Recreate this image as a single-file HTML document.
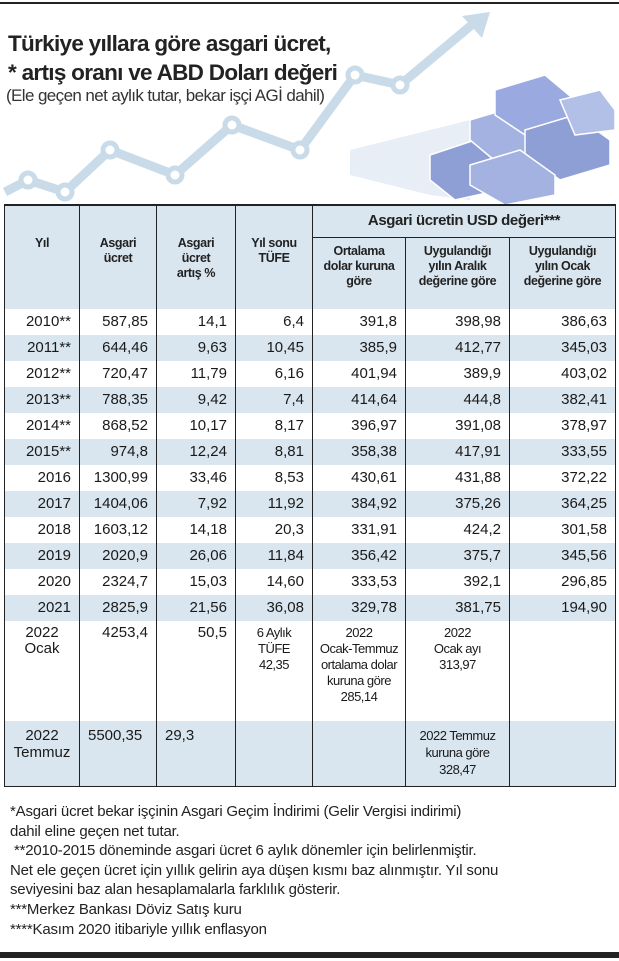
<!DOCTYPE html>
<html><head><meta charset="utf-8"><style>
*{margin:0;padding:0;box-sizing:border-box}
body{width:619px;height:961px;background:#fff;position:relative;overflow:hidden;font-family:"Liberation Sans Narrow","Liberation Sans",sans-serif;color:#1a1a1a}
.abs{position:absolute}
.title{left:8px;top:29px;font-family:"Liberation Sans",sans-serif;font-weight:bold;font-size:22.5px;line-height:29px;letter-spacing:-0.7px;color:#222}
.sub{left:6px;top:86px;font-family:"Liberation Sans",sans-serif;font-size:17px;letter-spacing:-0.6px;color:#333}
table{position:absolute;left:4px;top:204px;width:611px;border-collapse:collapse;font-size:15px;table-layout:fixed}
td{border-left:1.5px solid #222;border-right:1.5px solid #222;padding:0 8px;vertical-align:top;white-space:nowrap;overflow:hidden}
tr.r td{height:26px;line-height:26px;text-align:right}
tr.s td{background:#d9e6ef}
.hd td{background:#d9e6ef;font-weight:bold;font-size:12.5px;line-height:15px;text-align:center;color:#222;letter-spacing:-0.4px;padding:0 2px}
.sm{font-size:13px;letter-spacing:-0.5px}
.foot{left:10px;top:802px;font-size:15px;line-height:19.6px;color:#222;letter-spacing:-0.2px}
</style></head><body>
<div class="abs" style="left:0;top:2px;width:619px;height:2px;background:#222"></div>
<svg class="abs" style="left:0;top:0" width="619" height="205">
<polyline points="5,192 28,180 65,192 110,150 175,175 232,125 300,150 355,75 400,85 480,18" fill="none" stroke="#c9dbe8" stroke-width="9"/>
<polygon points="490,12 462,16 482,38" fill="#c9dbe8"/>
<g fill="#fff" stroke="#c9dbe8" stroke-width="5">
<circle cx="28" cy="180" r="7"/><circle cx="65" cy="192" r="7"/><circle cx="110" cy="150" r="7"/><circle cx="175" cy="175" r="7"/><circle cx="232" cy="125" r="7"/><circle cx="300" cy="150" r="7"/><circle cx="355" cy="75" r="7"/><circle cx="400" cy="85" r="7"/></g>
<polygon points="350,150 470,120 470,200 430,195 350,175" fill="#e8eef6"/>
<g stroke="#fff" stroke-width="1.5">
<polygon points="430,155 475,140 500,165 500,190 455,200 430,180" fill="#8e9fd6"/>
<polygon points="470,120 520,105 550,130 550,150 500,165 470,140" fill="#a3b2e0"/>
<polygon points="495,90 545,75 575,100 575,120 525,135 495,115" fill="#9aaae0"/>
<polygon points="525,130 575,115 610,140 610,165 560,180 525,155" fill="#8e9fd6"/>
<polygon points="470,165 520,150 555,175 555,195 505,205 470,185" fill="#a3b2e0"/>
<polygon points="560,100 600,90 615,110 615,130 575,135" fill="#b2bfe6"/>
</g></svg>
<div class="abs title">Türkiye yıllara göre asgari ücret,<br>* artış oranı ve ABD Doları değeri</div>
<div class="abs sub">(Ele geçen net aylık tutar, bekar işçi AGİ dahil)</div>
<table>
<colgroup><col style="width:75px"><col style="width:77px"><col style="width:79px"><col style="width:77px"><col style="width:93px"><col style="width:104px"><col style="width:106px"></colgroup>
<tr class="hd"><td rowspan="2" style="padding-top:32px;height:104px">Yıl</td><td rowspan="2" style="padding-top:32px">Asgari<br>ücret</td><td rowspan="2" style="padding-top:32px">Asgari<br>ücret<br>artış %</td><td rowspan="2" style="padding-top:32px">Yıl sonu<br>TÜFE</td><td colspan="3" style="font-size:15px;height:33px;line-height:33px;border-bottom:1.5px solid #222">Asgari ücretin USD değeri***</td></tr>
<tr class="hd"><td style="padding-top:6px;height:71px">Ortalama<br>dolar kuruna<br>göre</td><td style="padding-top:6px">Uygulandığı<br>yılın Aralık<br>değerine göre</td><td style="padding-top:6px">Uygulandığı<br>yılın Ocak<br>değerine göre</td></tr>
<tr class="r"><td>2010**</td><td>587,85</td><td>14,1</td><td>6,4</td><td>391,8</td><td>398,98</td><td>386,63</td></tr>
<tr class="r s"><td>2011**</td><td>644,46</td><td>9,63</td><td>10,45</td><td>385,9</td><td>412,77</td><td>345,03</td></tr>
<tr class="r"><td>2012**</td><td>720,47</td><td>11,79</td><td>6,16</td><td>401,94</td><td>389,9</td><td>403,02</td></tr>
<tr class="r s"><td>2013**</td><td>788,35</td><td>9,42</td><td>7,4</td><td>414,64</td><td>444,8</td><td>382,41</td></tr>
<tr class="r"><td>2014**</td><td>868,52</td><td>10,17</td><td>8,17</td><td>396,97</td><td>391,08</td><td>378,97</td></tr>
<tr class="r s"><td>2015**</td><td>974,8</td><td>12,24</td><td>8,81</td><td>358,38</td><td>417,91</td><td>333,55</td></tr>
<tr class="r"><td>2016</td><td>1300,99</td><td>33,46</td><td>8,53</td><td>430,61</td><td>431,88</td><td>372,22</td></tr>
<tr class="r s"><td>2017</td><td>1404,06</td><td>7,92</td><td>11,92</td><td>384,92</td><td>375,26</td><td>364,25</td></tr>
<tr class="r"><td>2018</td><td>1603,12</td><td>14,18</td><td>20,3</td><td>331,91</td><td>424,2</td><td>301,58</td></tr>
<tr class="r s"><td>2019</td><td>2020,9</td><td>26,06</td><td>11,84</td><td>356,42</td><td>375,7</td><td>345,56</td></tr>
<tr class="r"><td>2020</td><td>2324,7</td><td>15,03</td><td>14,60</td><td>333,53</td><td>392,1</td><td>296,85</td></tr>
<tr class="r s"><td>2021</td><td>2825,9</td><td>21,56</td><td>36,08</td><td>329,78</td><td>381,75</td><td>194,90</td></tr>
<tr style="line-height:16px"><td style="height:100px;text-align:center;padding-top:4px">2022<br>Ocak</td><td style="text-align:right;padding-top:4px">4253,4</td><td style="text-align:right;padding-top:4px">50,5</td><td class="sm" style="text-align:center;padding:4px 0 0">6 Aylık<br>TÜFE<br>42,35</td><td class="sm" style="text-align:center;padding:4px 0 0">2022<br>Ocak-Temmuz<br>ortalama dolar<br>kuruna göre<br>285,14</td><td class="sm" style="text-align:center;padding:4px 0 0">2022<br>Ocak ayı<br>313,97</td><td></td></tr>
<tr class="s" style="line-height:17px"><td style="height:66px;text-align:center;padding-top:6px;border-bottom:1.5px solid #222">2022<br>Temmuz</td><td style="padding-top:6px;border-bottom:1.5px solid #222">5500,35</td><td style="padding-top:6px;border-bottom:1.5px solid #222">29,3</td><td style="border-bottom:1.5px solid #222"></td><td style="border-bottom:1.5px solid #222"></td><td class="sm" style="text-align:center;padding:6px 0 0;border-bottom:1.5px solid #222">2022 Temmuz<br>kuruna göre<br>328,47</td><td style="border-bottom:1.5px solid #222"></td></tr>
</table>
<div class="abs" style="left:4px;top:204px;width:611px;height:1.5px;background:#222"></div>
<div class="abs foot">*Asgari ücret bekar işçinin Asgari Geçim İndirimi (Gelir Vergisi indirimi)<br>dahil eline geçen net tutar.<br>&nbsp;**2010-2015 döneminde asgari ücret 6 aylık dönemler için belirlenmiştir.<br>Net ele geçen ücret için yıllık gelirin aya düşen kısmı baz alınmıştır. Yıl sonu<br>seviyesini baz alan hesaplamalarla farklılık gösterir.<br>***Merkez Bankası Döviz Satış kuru<br>****Kasım 2020 itibariyle yıllık enflasyon</div>
<div class="abs" style="left:0;top:952px;width:619px;height:6px;background:#222"></div>
</body></html>
